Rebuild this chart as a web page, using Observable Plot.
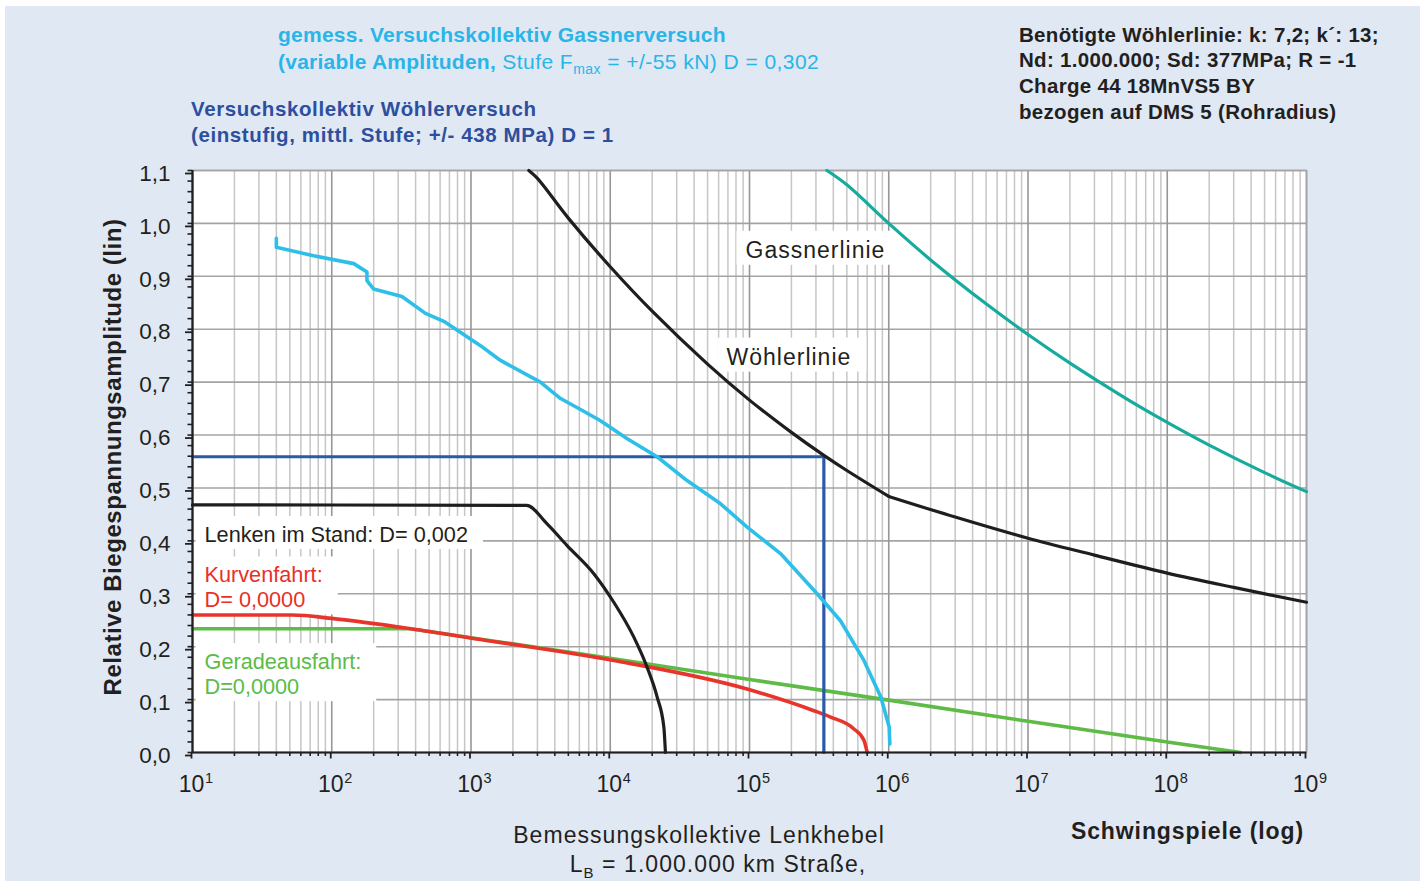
<!DOCTYPE html>
<html>
<head>
<meta charset="utf-8">
<script src="https://cdn.jsdelivr.net/npm/d3@7"></script>
<script src="https://cdn.jsdelivr.net/npm/@observablehq/plot@0.6"></script>
<style>
  html, body { margin: 0; padding: 0; background: #ffffff; }
  #bg { position: absolute; left: 5px; top: 6px; width: 1415px; height: 875px; background: #e0e8f4; }
  #wrap { position: absolute; left: 0; top: 0; width: 1420px; height: 881px; font-family: "Liberation Sans", Arial, Helvetica, sans-serif; color: #231f20; overflow: hidden; }
  #wrap svg { position: absolute; left: 0; top: 0; }
  .t { position: absolute; white-space: nowrap; }
  .b { font-weight: bold; }
</style>
</head>
<body>
<div id="bg"></div>
<div id="wrap">
  <div class="t b" style="left:278px; top:20.5px; font-size:21px; line-height:27.5px; color:#2ab5e8; letter-spacing:0.25px;">gemess. Versuchskollektiv Gassnerversuch<br><span>(variable Amplituden,</span><span style="font-weight:normal; letter-spacing:0.45px;"> Stufe F<sub style="font-size:14px; line-height:0;">max</sub> = +/-55 kN) D = 0,302</span></div>
  <div class="t b" style="left:191px; top:95.5px; font-size:20.5px; line-height:26.7px; color:#2d4f9e; letter-spacing:0.6px;">Versuchskollektiv Wöhlerversuch<br>(einstufig, mittl. Stufe; +/- 438 MPa) D = 1</div>
  <div class="t b" style="left:1019px; top:21.6px; font-size:20.5px; line-height:25.7px; color:#231f20; letter-spacing:0.3px;">Benötigte Wöhlerlinie: k: 7,2; k´: 13;<br>Nd: 1.000.000; Sd: 377MPa; R = -1<br>Charge 44 18MnVS5 BY<br>bezogen auf DMS 5 (Rohradius)</div>
  <div class="t b" style="left:112.5px; top:456.5px; font-size:24px; line-height:30px; letter-spacing:0.55px; transform:translate(-50%,-50%) rotate(-90deg);">Relative Biegespannungsamplitude (lin)</div>
  <div class="t" style="left:699px; top:823px; font-size:23px; line-height:24px; letter-spacing:1.05px; transform:translateX(-50%);">Bemessungskollektive Lenkhebel</div>
  <div class="t" style="left:718px; top:852px; font-size:23px; line-height:24px; letter-spacing:1.05px; transform:translateX(-50%);">L<sub style="font-size:15px; line-height:0;">B</sub> = 1.000.000 km Straße,</div>
  <div class="t b" style="right:116px; top:819px; font-size:23px; line-height:24px; letter-spacing:0.9px;">Schwingspiele (log)</div>
</div>
<script>
// ---- data ----
// Wöhlerlinie (black)
const woehlerN = [2600, 3000, 5000, 1e4, 2e4, 5e4, 1e5, 2e5, 3.4e5, 5e5, 1e6, 3e6, 1e7, 3e7, 1e8, 3e8, 1e9];
const woehlerS = [1.100, 1.085, 1.010, 0.918, 0.834, 0.734, 0.666, 0.605, 0.562, 0.533, 0.484, 0.445, 0.405, 0.373, 0.339, 0.312, 0.284];
// Gassnerlinie (teal)
const gassnerN = [3.6e5, 5e5, 1e6, 2e6, 5e6, 1e7, 2e7, 5e7, 1e8, 2e8, 5e8, 1e9];
const gassnerS = [1.100, 1.073, 1.000, 0.931, 0.848, 0.790, 0.736, 0.670, 0.624, 0.581, 0.529, 0.493];
// gemessenes Versuchskollektiv Gassnerversuch (cyan)
const messN = [40, 40, 74, 144, 179, 179, 200, 319, 471, 638, 1170, 1630, 3150, 4400, 6640, 8510, 13250, 21700, 35600, 62000, 96200, 1.67e5, 3.06e5, 4.5e5, 6.63e5, 8.77e5, 1.007e6, 1.018e6];
const messS = [0.972, 0.955, 0.939, 0.924, 0.908, 0.892, 0.876, 0.862, 0.830, 0.815, 0.769, 0.741, 0.700, 0.669, 0.643, 0.627, 0.593, 0.559, 0.514, 0.470, 0.426, 0.376, 0.300, 0.249, 0.174, 0.105, 0.048, 0.016];
// Versuchskollektiv Wöhlerversuch (dark blue)
const versuchN = [10, 3.42e5, 3.42e5];
const versuchS = [0.559, 0.559, 0];
// Lenken im Stand (black)
const lenkenN = [10, 2506, 3520, 4900, 7620, 10600, 14770, 18400, 21700, 24260, 24900];
const lenkenS = [0.468, 0.467, 0.432, 0.391, 0.338, 0.284, 0.218, 0.161, 0.105, 0.048, 0.0];
// Kurvenfahrt (red)
const kurveN = [10, 52, 103, 368, 1170, 10600, 96000, 2.9e5, 3.82e5, 5.6e5, 6.63e5, 7.0e5];
const kurveS = [0.260, 0.260, 0.253, 0.234, 0.2136, 0.174, 0.120, 0.079, 0.067, 0.045, 0.023, 0.0];
// Geradeausfahrt (green)
const geradeN = [10, 368, 1e4, 1e5, 1e6, 1e7, 1e8, 3.36e8];
const geradeS = [0.234, 0.234, 0.178, 0.138, 0.099, 0.059, 0.020, 0.0];

// ticks
const decades = [10, 100, 1e3, 1e4, 1e5, 1e6, 1e7, 1e8, 1e9];
const minorMult = [2, 3, 4, 5, 6, 7, 8, 9];
const yMajor = [0, 0.1, 0.2, 0.3, 0.4, 0.5, 0.6, 0.7, 0.8, 0.9, 1.0, 1.1];
const yLabels = ["0,0", "0,1", "0,2", "0,3", "0,4", "0,5", "0,6", "0,7", "0,8", "0,9", "1,0", "1,1"];

// annotations
const annoText = ["Gassnerlinie", "Wöhlerlinie", "Lenken im Stand: D= 0,002", "Kurvenfahrt:\nD= 0,0000", "Geradeausfahrt:\nD=0,0000"];
const annoN = [93600, 68400, 12.2, 12.2, 12.2];
const annoS = [0.949, 0.747, 0.411, 0.313, 0.149];

// ---- build ----
const minorTicks = decades.slice(0, -1).flatMap(d => minorMult.map(m => d * m));
const yMinor = d3.range(0, 56).map(i => +(i * 0.02).toFixed(2));
const rows = (N, S) => N.map((n, i) => ({n, s: S[i]}));
const anno = i => [{n: annoN[i], s: annoS[i], t: annoText[i]}];
const line = (data, stroke, w, curve = "linear") => Plot.line(data, {x: "n", y: "s", stroke, strokeWidth: w, strokeLinejoin: "round", curve});
const ink = "#231f20";
const woehler = rows(woehlerN, woehlerS);

const chart = Plot.plot({
  width: 1420, height: 881,
  marginLeft: 192, marginRight: 114, marginTop: 170, marginBottom: 129,
  style: {background: "transparent", fontFamily: "'Liberation Sans', Arial, Helvetica, sans-serif", color: ink, overflow: "visible"},
  x: {type: "log", domain: [10, 1e9], label: null},
  y: {domain: [0, 1.1], label: null},
  marks: [
    Plot.frame({fill: "white", stroke: null}),
    Plot.ruleX(minorTicks, {stroke: "#c6c6c6", strokeWidth: 1.5}),
    Plot.ruleY(yMajor, {stroke: "#a4a4a4", strokeWidth: 1.6}),
    Plot.ruleX(decades, {stroke: "#969696", strokeWidth: 1.6}),
    Plot.frame({stroke: "#a4a4a4", strokeWidth: 1.5}),
    line(rows(geradeN, geradeS), "#5dbb46", 3.6),
    line(rows(kurveN, kurveS), "#e8352b", 3.6, "monotone-x"),
    line(rows(versuchN, versuchS), "#2b5aa8", 3.2),
    line(rows(lenkenN, lenkenS), "#1e1e1e", 3.2, "monotone-x"),
    line(rows(messN, messS), "#2ebfe9", 3.6),
    line(woehler.filter(d => d.n <= 1e6), "#1e1e1e", 3.2, "catmull-rom"),
    line(woehler.filter(d => d.n >= 1e6), "#1e1e1e", 3.2, "catmull-rom"),
    line(rows(gassnerN, gassnerS), "#16ab9c", 3.2, "catmull-rom"),
    Plot.ruleX([10], {stroke: ink, strokeWidth: 2.2}),
    Plot.ruleY([0], {stroke: ink, strokeWidth: 2.2}),
    Plot.axisY(yMinor, {tickSize: 4.5, tickFormat: () => "", strokeWidth: 1.6, label: null}),
    Plot.axisY(yMajor, {tickSize: 7, tickPadding: 15, tickFormat: d => yLabels[yMajor.indexOf(d)], fontSize: 22.5, dy: 3, strokeWidth: 1.8, label: null}),
    Plot.axisX(minorTicks, {tickSize: 4, tickFormat: () => "", strokeWidth: 1.6, label: null}),
    Plot.axisX(decades, {tickSize: 6.5, tickPadding: 16.5, tickFormat: () => "10", fontSize: 23, dx: -1, strokeWidth: 1.8, label: null}),
    Plot.axisX(decades, {tickSize: 0, tickPadding: 20, tickFormat: d => String(Math.round(Math.log10(d))), fontSize: 14.5, textAnchor: "start", dx: 12.5, label: null}),
    Plot.text([...anno(0), ...anno(1)], {x: "n", y: "s", text: "t", fill: ink, fontSize: 23, textAnchor: "start", lineAnchor: "middle"}),
    Plot.text(anno(2), {x: "n", y: "s", text: "t", fill: ink, fontSize: 21.7, textAnchor: "start", lineAnchor: "middle"}),
    Plot.text(anno(3), {x: "n", y: "s", text: "t", fill: "#e8302a", fontSize: 21.7, lineHeight: 1.15, textAnchor: "start", lineAnchor: "middle"}),
    Plot.text(anno(4), {x: "n", y: "s", text: "t", fill: "#5dbb46", fontSize: 21.7, lineHeight: 1.15, textAnchor: "start", lineAnchor: "middle"})
  ]
});

const wrap = document.getElementById("wrap");
wrap.insertBefore(chart, wrap.firstChild);

// white label boxes behind the annotations (hide the grid)
const NS = "http://www.w3.org/2000/svg";
const svgRect = chart.getBoundingClientRect();
const flat = annoText.map(s => s.replace(/\n/g, ""));
const texts = Array.from(chart.querySelectorAll("text")).filter(t => flat.includes(t.textContent));
texts.forEach(t => {
  if (t.textContent === flat[0] || t.textContent === flat[1]) t.style.letterSpacing = "1px";
});
const firstLine = chart.querySelector('g[aria-label="line"]');
const boxG = document.createElementNS(NS, "g");
texts.forEach(t => {
  const r = t.getBoundingClientRect();
  const rect = document.createElementNS(NS, "rect");
  const x0 = Math.max(r.left - svgRect.left - 9, 193.5);
  rect.setAttribute("x", x0);
  rect.setAttribute("y", r.top - svgRect.top - 6);
  rect.setAttribute("width", r.right - svgRect.left + 15 - x0);
  rect.setAttribute("height", r.height + 8);
  rect.setAttribute("fill", "white");
  boxG.appendChild(rect);
});
if (firstLine) firstLine.parentNode.insertBefore(boxG, firstLine);
</script>
</body>
</html>
